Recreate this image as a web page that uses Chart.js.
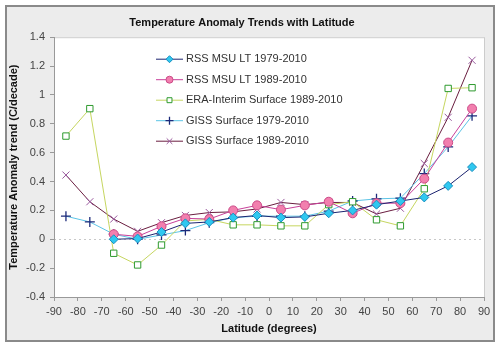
<!DOCTYPE html>
<html lang="en">
<head>
    <meta charset="UTF-8">
    <title>Temperature Anomaly Trends with Latitude</title>
    <script src="https://cdn.jsdelivr.net/npm/chart.js"></script>
    <style>
        body { margin: 0; background: #fff; }
        #wrap { width: 500px; height: 346px; position: relative; }
    </style>
</head>
<body>
    <div id="wrap"><canvas id="trendChart" width="500" height="346"></canvas></div>

    <script>
        // latitude band centres (degrees)
        const latitudes = [-85, -75, -65, -55, -45, -35, -25, -15, -5, 5, 15, 25, 35, 45, 55, 65, 75, 85];

        // trends in C/decade
        const rss1979 = [null, null, 0.0, 0.005, 0.05, 0.11, 0.12, 0.15, 0.165, 0.15, 0.155, 0.18, 0.2, 0.24, 0.265, 0.29, 0.37, 0.5];
        const rss1989 = [null, null, 0.035, 0.02, 0.09, 0.145, 0.14, 0.2, 0.235, 0.205, 0.235, 0.26, 0.18, 0.25, 0.25, 0.42, 0.67, 0.905];
        const era1989 = [0.715, 0.905, -0.097, -0.178, -0.04, 0.127, 0.138, 0.1, 0.1, 0.093, 0.093, 0.24, 0.26, 0.135, 0.093, 0.35, 1.045, 1.05];
        const giss1979 = [0.16, 0.12, 0.035, 0.0, 0.03, 0.06, 0.115, 0.15, 0.16, 0.16, 0.16, 0.195, 0.265, 0.28, 0.285, 0.455, 0.64, 0.855];
        const giss1989 = [0.445, 0.26, 0.14, 0.055, 0.115, 0.165, 0.185, 0.19, 0.21, 0.255, 0.24, 0.255, 0.255, 0.175, 0.215, 0.525, 0.845, 1.24];

        const seriesNames = ['RSS MSU LT 1979-2010', 'RSS MSU LT 1989-2010', 'ERA-Interim Surface 1989-2010', 'GISS Surface 1979-2010', 'GISS Surface 1989-2010'];

        const xTicks = [-90, 90, 10];      // min, max, step
        const yTicks = [-0.4, 1.4, 0.2];

        const FONT = 'Arial, "Liberation Sans", sans-serif';

        function pts(values) {
            return latitudes.map((lat, i) => ({ x: lat, y: values[i] }));
        }

        // background frame, plot area and the dotted zero line
        const framePlugin = {
            id: 'frame',
            beforeDraw(chart) {
                const c = chart.ctx;
                const a = chart.chartArea;
                c.save();
                c.fillStyle = '#ffffff';
                c.fillRect(0, 0, chart.width, chart.height);
                c.fillStyle = '#ececec';
                c.fillRect(5, 5, 490, 336);
                c.strokeStyle = '#8a8a8a';
                c.lineWidth = 2;
                c.strokeRect(6, 6, 488, 335);
                c.fillStyle = '#ffffff';
                c.fillRect(a.left, a.top, a.right - a.left, a.bottom - a.top);
                c.strokeStyle = '#cccccc';
                c.lineWidth = 1;
                c.strokeRect(a.left + 0.5, a.top + 0.5, a.right - a.left, a.bottom - a.top);
                const y0 = Math.round(chart.scales.y.getPixelForValue(0)) + 0.5;
                c.strokeStyle = '#c8c8c8';
                c.setLineDash([2, 3]);
                c.beginPath();
                c.moveTo(a.left, y0);
                c.lineTo(a.right, y0);
                c.stroke();
                c.restore();
            }
        };

        // legend drawn inside the plot area
        const insideLegend = {
            id: 'insideLegend',
            afterDraw(chart) {
                const c = chart.ctx;
                const a = chart.chartArea;
                const x0 = a.left + 102, x1 = a.left + 129;
                c.save();
                c.font = '11px ' + FONT;
                c.textBaseline = 'middle';
                chart.data.datasets.forEach((ds, i) => {
                    const y = a.top + 22 + i * 20.5;
                    c.strokeStyle = ds.borderColor;
                    c.lineWidth = 1;
                    c.beginPath();
                    c.moveTo(x0, y);
                    c.lineTo(x1, y);
                    c.stroke();
                    c.fillStyle = ds.pointBackgroundColor;
                    c.strokeStyle = ds.pointBorderColor;
                    c.lineWidth = ds.pointBorderWidth;
                    Chart.helpers.drawPoint(c, { pointStyle: ds.pointStyle, radius: ds.pointRadius - 1, rotation: 0, borderWidth: ds.pointBorderWidth }, (x0 + x1) / 2, y);
                    c.fillStyle = '#333';
                    c.fillText(ds.label, x1 + 3, y);
                });
                c.restore();
            }
        };

        const ctx = document.getElementById('trendChart').getContext('2d');
        new Chart(ctx, {
            type: 'line',
            data: {
                datasets: [
                    {
                        label: seriesNames[0], data: pts(rss1979),
                        borderColor: '#1c2470', borderWidth: 1,
                        pointStyle: 'rectRot', pointRadius: 4.5,
                        pointBackgroundColor: '#2fc8f0', pointBorderColor: '#1a8fc0', pointBorderWidth: 1
                    },
                    {
                        label: seriesNames[1], data: pts(rss1989),
                        borderColor: '#c8409a', borderWidth: 1,
                        pointStyle: 'circle', pointRadius: 4.5,
                        pointBackgroundColor: '#f27fae', pointBorderColor: '#cc4a88', pointBorderWidth: 1
                    },
                    {
                        label: seriesNames[2], data: pts(era1989),
                        borderColor: '#c6d660', borderWidth: 1,
                        pointStyle: 'rect', pointRadius: 4.5,
                        pointBackgroundColor: '#ffffff', pointBorderColor: '#2e9a2e', pointBorderWidth: 1
                    },
                    {
                        label: seriesNames[3], data: pts(giss1979),
                        borderColor: '#5cc4e6', borderWidth: 1,
                        pointStyle: 'cross', pointRadius: 5,
                        pointBackgroundColor: '#1c2a7a', pointBorderColor: '#1c2a7a', pointBorderWidth: 1.3
                    },
                    {
                        label: seriesNames[4], data: pts(giss1989),
                        borderColor: '#6a1e40', borderWidth: 1,
                        pointStyle: 'crossRot', pointRadius: 5,
                        pointBackgroundColor: '#9a5a9e', pointBorderColor: '#9a5a9e', pointBorderWidth: 1
                    }
                ]
            },
            options: {
                responsive: false,
                animation: false,
                layout: { padding: { left: 0, right: 16, top: 0, bottom: 0 } },
                elements: { line: { tension: 0 } },
                plugins: {
                    legend: { display: false },
                    tooltip: { enabled: false },
                    title: {
                        display: true,
                        text: 'Temperature Anomaly Trends with Latitude',
                        color: '#111',
                        font: { family: FONT, size: 11, weight: 'bold' },
                        padding: { top: 16, bottom: 8 }
                    }
                },
                scales: {
                    x: {
                        type: 'linear',
                        min: xTicks[0], max: xTicks[1],
                        afterFit: s => { s.height = 49; },
                        ticks: { stepSize: xTicks[2], color: '#444', font: { family: FONT, size: 11 }, padding: 4, maxRotation: 0, autoSkip: false },
                        grid: { drawOnChartArea: false, drawTicks: true, tickLength: 4, tickColor: '#999' },
                        border: { color: '#999' },
                        title: {
                            display: true, text: 'Latitude (degrees)', color: '#111',
                            font: { family: FONT, size: 11, weight: 'bold' },
                            padding: { top: 0, bottom: 10 }
                        }
                    },
                    y: {
                        min: yTicks[0], max: yTicks[1],
                        afterFit: s => { s.width = 54; },
                        ticks: {
                            stepSize: yTicks[2], color: '#444', font: { family: FONT, size: 11 }, padding: 5,
                            callback: v => String(Math.round(v * 10) / 10)
                        },
                        grid: { drawOnChartArea: false, drawTicks: true, tickLength: 4, tickColor: '#999' },
                        border: { color: '#999' },
                        title: {
                            display: true, text: 'Temperature Anomaly trend (C/decade)', color: '#111',
                            font: { family: FONT, size: 11, weight: 'bold' },
                            padding: { top: 7, bottom: 0 }
                        }
                    }
                }
            },
            plugins: [framePlugin, insideLegend]
        });
    </script>
</body>
</html>
